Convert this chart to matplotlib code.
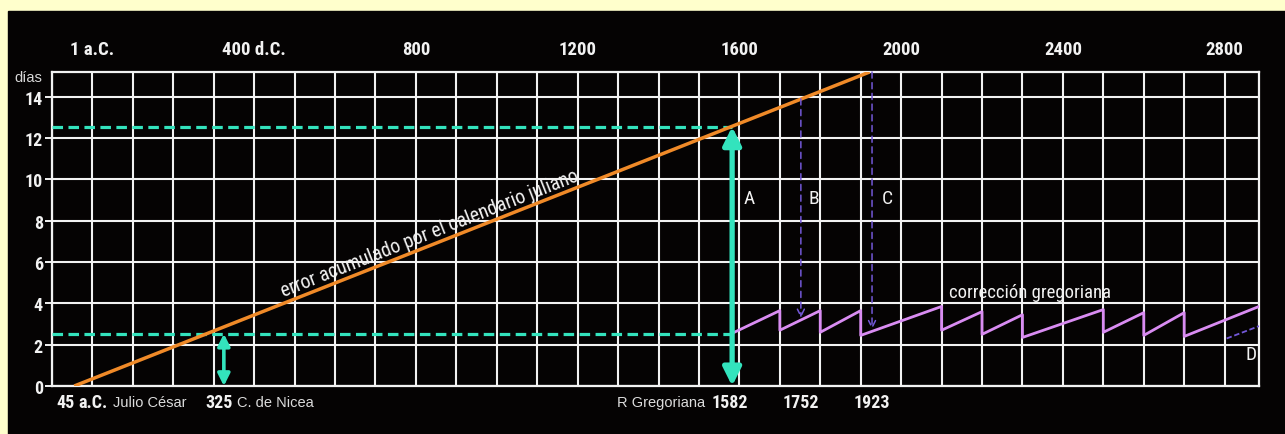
import matplotlib
matplotlib.use('Agg')
import matplotlib.pyplot as plt
import matplotlib.font_manager as fm
from matplotlib.transforms import blended_transform_factory
import numpy as np

# ---- datos ----
julian_years = [-45, 1922]
julian_days = [0, 15.2]

greg_years = [1582, 1700, 1700, 1800, 1800, 1900, 1900, 2100, 2100, 2200, 2200,
              2300, 2300, 2500, 2500, 2600, 2600, 2700, 2700, 2885]
greg_days = [2.55, 3.65, 2.70, 3.65, 2.60, 3.65, 2.45, 3.85, 2.70, 3.60, 2.50,
             3.45, 2.35, 3.70, 2.60, 3.55, 2.45, 3.55, 2.40, 3.85]

d_years = [2805, 2885]
d_days = [2.30, 2.90]

nicea_year, nicea_days = 325, 2.53
reform_year, reform_days = 1582, 12.55
b_year, b_from, b_to = 1752, 13.9, 3.3
c_year, c_from, c_to = 1928, 15.2, 2.75

top_years = [0, 400, 800, 1200, 1600, 2000, 2400, 2800]
top_labels = ['1 a.C.', '400 d.C.', '800', '1200', '1600', '2000', '2400', '2800']
day_ticks = [0, 2, 4, 6, 8, 10, 12, 14]

X0, X1 = -100, 2885
Y0, Y1 = 0, 15.2

bg = '#050303'; fg = '#f2f2f2'; yellow = '#ffffcc'
orange = '#f08a28'; cyan = '#33e3bd'; violet = '#d98cf2'; indigo = '#7358d8'

# fuente estrecha (tipo Helvetica Condensed)
_names = {f.name for f in fm.fontManager.ttflist}
_pick = next((n for n in ['Roboto Condensed', 'Liberation Sans Narrow', 'Barlow Condensed',
                          'Asap Condensed', 'Archivo Narrow'] if n in _names), 'DejaVu Sans')
NF = dict(family=[_pick, 'DejaVu Sans'])
RF = dict(family=['Liberation Sans', 'DejaVu Sans'])

fig = plt.figure(figsize=(12.85, 4.35), dpi=100, facecolor=yellow)
fig.add_artist(plt.Rectangle((8/1285, 0), 1, 1 - 12/435, transform=fig.transFigure,
                             color=bg, zorder=0))

ax = fig.add_axes([52/1285, 1 - 387/435, (1259 - 52)/1285, (387 - 73)/435])
ax.set_facecolor(bg)
ax.set_xlim(X0, X1); ax.set_ylim(Y0, Y1)

# cuadrícula
ax.set_xticks(np.arange(X0, 2801, 100), minor=True)
ax.set_xticks([])
ax.set_yticks(day_ticks)
ax.grid(which='minor', axis='x', color=fg, lw=1.5, zorder=1)
ax.grid(which='major', axis='y', color=fg, lw=1.5, zorder=1)
for s in ax.spines.values():
    s.set_color(fg); s.set_linewidth(1.6); s.set_zorder(2)
ax.tick_params(axis='x', which='both', length=0)
ax.tick_params(axis='y', length=5, width=1.4, color=fg, pad=1.5, labelcolor=fg)
for lb in ax.get_yticklabels():
    lb.set_fontproperties(fm.FontProperties(size=13, weight='bold', **NF))

trans_xa = blended_transform_factory(ax.transData, ax.transAxes)
trans_ay = blended_transform_factory(ax.transAxes, ax.transData)

# etiquetas superiores
for yr, lab in zip(top_years, top_labels):
    ax.text(yr, 1.045, lab, transform=trans_xa, ha='center', va='bottom',
            fontsize=13.5, fontweight='bold', color=fg, **NF)
ax.text(-0.008, 14.95, 'días', transform=trans_ay, ha='right', va='center',
        fontsize=10.5, color='#d8d8d8', **RF)

# error juliano
ax.plot(julian_years, julian_days, color=orange, lw=2.5, zorder=4, solid_capstyle='butt')
ax.text(835, 7.4, 'error acumulado por el calendario juliano', rotation=21.5,
        rotation_mode='anchor', ha='center', va='center', fontsize=14.2,
        color=fg, zorder=5, **NF)

# líneas de referencia
dash = (0, (3.3, 1.7))
ax.plot([X0, reform_year], [reform_days, reform_days], color=cyan, lw=2.3, ls=dash, zorder=3)
ax.plot([X0, reform_year], [nicea_days, nicea_days], color=cyan, lw=2.3, ls=dash, zorder=3)

ax.annotate('', xy=(nicea_year, 0), xytext=(nicea_year, nicea_days),
            arrowprops=dict(arrowstyle='<|-|>', color=cyan, lw=2.6, mutation_scale=18,
                            shrinkA=0, shrinkB=0), zorder=5)
ax.annotate('', xy=(reform_year, 0), xytext=(reform_year, reform_days),
            arrowprops=dict(arrowstyle='<|-|>', color=cyan, lw=3.8, mutation_scale=27,
                            shrinkA=0, shrinkB=0), zorder=5)

# corrección gregoriana
ax.plot(greg_years, greg_days, color=violet, lw=2.0, zorder=4)
ax.plot(d_years, d_days, color=indigo, lw=1.3, ls=(0, (3, 1.5)), zorder=4)
ax.text(2318, 4.56, 'corrección gregoriana', ha='center', va='center', fontsize=13.5,
        color=fg, zorder=5, **NF)

for yr, y_from, y_to in [(b_year, b_from, b_to), (c_year, c_from, c_to)]:
    ax.annotate('', xy=(yr, y_to), xytext=(yr, y_from),
                arrowprops=dict(arrowstyle='->,head_length=0.5,head_width=0.25', color=indigo,
                                lw=1.1, ls=(0, (4, 3)), shrinkA=0, shrinkB=0), zorder=4)

for lab, xx, yy in [('A', 1610, 9.1), ('B', 1772, 9.1), ('C', 1952, 9.1), ('D', 2852, 1.55)]:
    ax.text(xx, yy, lab, fontsize=14, color=fg, va='center', ha='left', zorder=5, **NF)

# etiquetas inferiores
yb = -0.052
bold_kw = dict(transform=trans_xa, va='center', fontsize=13, fontweight='bold', color=fg, **NF)
name_kw = dict(transform=trans_xa, va='center', fontsize=10.5, color='#dcdcdc', **RF)
ax.text(-88, yb, '45', ha='left', **bold_kw)
ax.text(-35, yb, 'a.C.', ha='left', **bold_kw)
ax.text(52, yb, 'Julio César', ha='left', **name_kw)
ax.text(280, yb, '325', ha='left', **bold_kw)
ax.text(357, yb, 'C. de Nicea', ha='left', **name_kw)
ax.text(1515, yb, 'R Gregoriana', ha='right', **name_kw)
ax.text(1530, yb, '1582', ha='left', **bold_kw)
ax.text(b_year, yb, '1752', ha='center', **bold_kw)
ax.text(c_year, yb, '1923', ha='center', **bold_kw)

plt.savefig('out.png', dpi=100, facecolor=yellow)
